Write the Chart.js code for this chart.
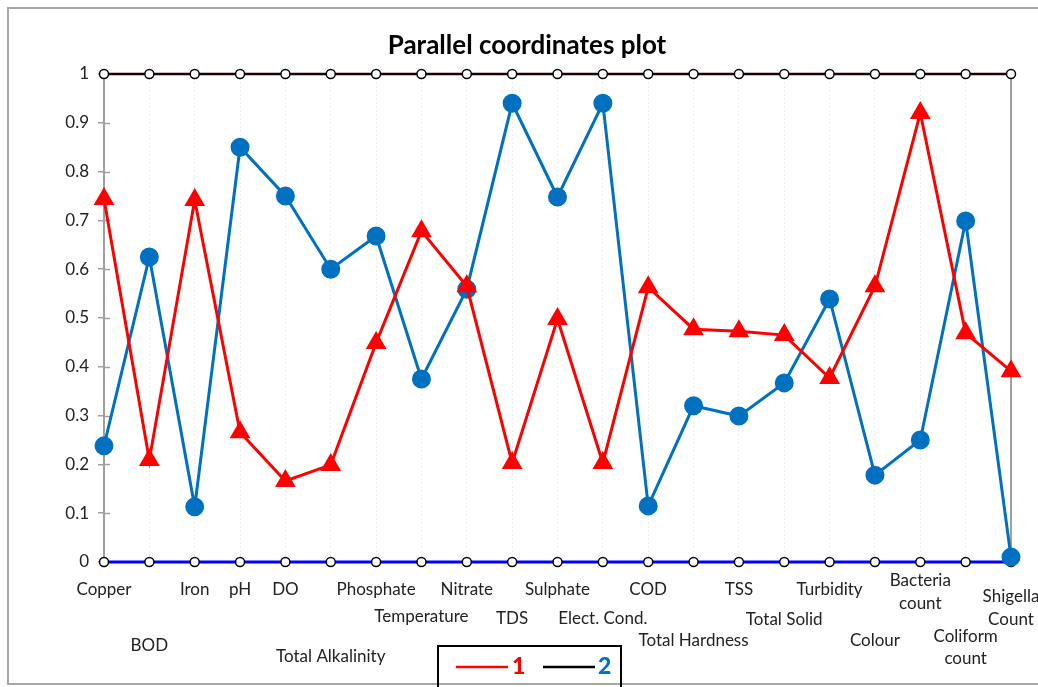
<!DOCTYPE html>
<html>
<head>
<meta charset="utf-8">
<script src="https://cdn.jsdelivr.net/npm/chart.js@4.4.1/dist/chart.umd.min.js"></script>
<style>
  html, body { margin: 0; padding: 0; background: #fff; }
  #wrap { position: relative; width: 1038px; height: 687px; }
</style>
</head>
<body>
<div id="wrap"><canvas id="c" width="1038" height="687"></canvas></div>
<script>
// ---- data ----
const categories = ["Copper", "BOD", "Iron", "pH", "DO", "Total Alkalinity", "Phosphate", "Temperature",
  "Nitrate", "TDS", "Sulphate", "Elect. Cond.", "COD", "Total Hardness", "TSS", "Total Solid",
  "Turbidity", "Colour", "Bacteria count", "Coliform count", "Shigella Count"];
const series1 = [0.744, 0.209, 0.742, 0.266, 0.166, 0.199, 0.449, 0.678, 0.565, 0.203, 0.498, 0.203,
  0.563, 0.477, 0.473, 0.465, 0.377, 0.565, 0.920, 0.469, 0.391];
const series2 = [0.238, 0.625, 0.113, 0.850, 0.750, 0.600, 0.668, 0.375, 0.559, 0.940, 0.748, 0.940,
  0.115, 0.320, 0.299, 0.367, 0.539, 0.178, 0.250, 0.699, 0.010];
const upperBound = categories.map(() => 1);
const lowerBound = categories.map(() => 0);
const seriesNames = ["1", "2"];
const titleText = "Parallel coordinates plot";

// ---- layout of the staggered axis labels (text lines and their vertical centres) ----
const labelLines = [
  [["Copper", 590]], [["BOD", 646]], [["Iron", 590]], [["pH", 590]], [["DO", 590]],
  [["Total Alkalinity", 657]], [["Phosphate", 590]], [["Temperature", 617]], [["Nitrate", 590]],
  [["TDS", 619]], [["Sulphate", 590]], [["Elect. Cond.", 619]], [["COD", 590]],
  [["Total Hardness", 641]], [["TSS", 590]], [["Total Solid", 620]], [["Turbidity", 590]],
  [["Colour", 641]], [["Bacteria", 581], ["count", 604]], [["Coliform", 637], ["count", 659]],
  [["Shigella", 597], ["Count", 620]]
];

const FONT = "Lato, 'Open Sans', 'Liberation Sans', sans-serif";

const decor = {
  id: 'decor',
  beforeDraw(chart) {
    const ctx = chart.ctx;
    ctx.save();
    ctx.fillStyle = '#fff';
    ctx.fillRect(0, 0, chart.width, chart.height);
    ctx.strokeStyle = '#a6a6a6';
    ctx.lineWidth = 2;
    ctx.beginPath();
    ctx.moveTo(1038, 8); ctx.lineTo(8, 8); ctx.lineTo(8, 684); ctx.lineTo(1038, 684);
    ctx.stroke();
    ctx.restore();
  },
  beforeDatasetsDraw(chart) {
    const ctx = chart.ctx, a = chart.chartArea, y = chart.scales.y;
    ctx.save();
    // right axis line
    ctx.strokeStyle = '#a0a0a0';
    ctx.lineWidth = 2;
    ctx.beginPath(); ctx.moveTo(a.right, a.top); ctx.lineTo(a.right, a.bottom); ctx.stroke();
    // inner part of y tick marks
    ctx.lineWidth = 1.5;
    y.ticks.forEach(t => {
      const py = Math.round(y.getPixelForValue(t.value)) + 0.5;
      ctx.beginPath(); ctx.moveTo(a.left, py); ctx.lineTo(a.left + 6, py); ctx.stroke();
    });
    ctx.restore();
  },
  afterDraw(chart) {
    const ctx = chart.ctx, x = chart.scales.x;
    ctx.save();
    // title
    ctx.fillStyle = '#000';
    ctx.font = "bold 26px " + FONT;
    ctx.textAlign = 'center';
    ctx.textBaseline = 'middle';
    ctx.fillText(titleText, 527, 46);
    // category labels
    ctx.font = "17px " + FONT;
    ctx.fillStyle = '#222';
    labelLines.forEach((lines, i) => {
      const px = x.getPixelForValue(i);
      lines.forEach(([txt, py]) => ctx.fillText(txt, px, py));
    });
    // legend box
    ctx.strokeStyle = '#000';
    ctx.lineWidth = 2;
    ctx.beginPath();
    ctx.moveTo(438, 690); ctx.lineTo(438, 646); ctx.lineTo(621, 646); ctx.lineTo(621, 690);
    ctx.stroke();
    ctx.lineWidth = 2.5;
    ctx.strokeStyle = '#ff0000';
    ctx.beginPath(); ctx.moveTo(456, 667); ctx.lineTo(508, 667); ctx.stroke();
    ctx.strokeStyle = '#000';
    ctx.beginPath(); ctx.moveTo(543, 667); ctx.lineTo(595, 667); ctx.stroke();
    ctx.font = "900 23px " + FONT;
    ctx.textAlign = 'left';
    ctx.fillStyle = '#ff0000';
    ctx.fillText(seriesNames[0], 512, 667);
    ctx.fillStyle = '#0070c0';
    ctx.fillText(seriesNames[1], 598, 667);
    ctx.restore();
  }
};

new Chart(document.getElementById('c'), {
  type: 'line',
  data: {
    labels: categories,
    datasets: [
      { label: seriesNames[0], data: series1, borderColor: '#ff0000', backgroundColor: '#ff0000',
        borderWidth: 3, pointStyle: 'triangle', pointRadius: 9, pointHoverRadius: 9,
        pointBackgroundColor: '#ff0000', pointBorderColor: '#ff0000', order: 1, clip: false, tension: 0 },
      { label: seriesNames[1], data: series2, borderColor: '#0070c0', backgroundColor: '#0070c0',
        borderWidth: 3, pointStyle: 'circle', pointRadius: 8, pointHoverRadius: 8,
        pointBackgroundColor: '#0070c0', pointBorderColor: '#0070c0', order: 2, clip: false, tension: 0 },
      { label: 'upper', data: upperBound, borderColor: '#1a0000', borderWidth: 2.5,
        pointRadius: 4.5, pointBackgroundColor: '#fff', pointBorderColor: '#000', pointBorderWidth: 1.5,
        order: 3, clip: false },
      { label: 'lower', data: lowerBound, borderColor: '#0000ff', borderWidth: 3,
        pointRadius: 4.5, pointBackgroundColor: '#fff', pointBorderColor: '#000', pointBorderWidth: 1.5,
        order: 4, clip: false }
    ]
  },
  options: {
    responsive: false,
    animation: false,
    events: [],
    layout: { padding: { left: 0, right: 27, top: 74, bottom: 125 } },
    plugins: { legend: { display: false }, title: { display: false }, tooltip: { enabled: false } },
    scales: {
      x: {
        type: 'category',
        offset: false,
        ticks: { display: false },
        grid: { color: '#ececec', lineWidth: 1, drawTicks: false, tickLength: 0 },
        border: { display: false, dash: [2, 2] },
        afterFit(s) { s.height = 0; }
      },
      y: {
        min: 0, max: 1,
        ticks: { stepSize: 0.1, padding: 9, color: '#222', font: { family: FONT, size: 17 },
          callback: v => (Math.round(v * 10) / 10).toString() },
        grid: { drawOnChartArea: false, drawTicks: true, tickLength: 6, color: '#a0a0a0', lineWidth: 1.5 },
        border: { display: true, color: '#a0a0a0', width: 2 },
        afterFit(s) { s.width = 104; }
      }
    }
  },
  plugins: [decor]
});
</script>
</body>
</html>
